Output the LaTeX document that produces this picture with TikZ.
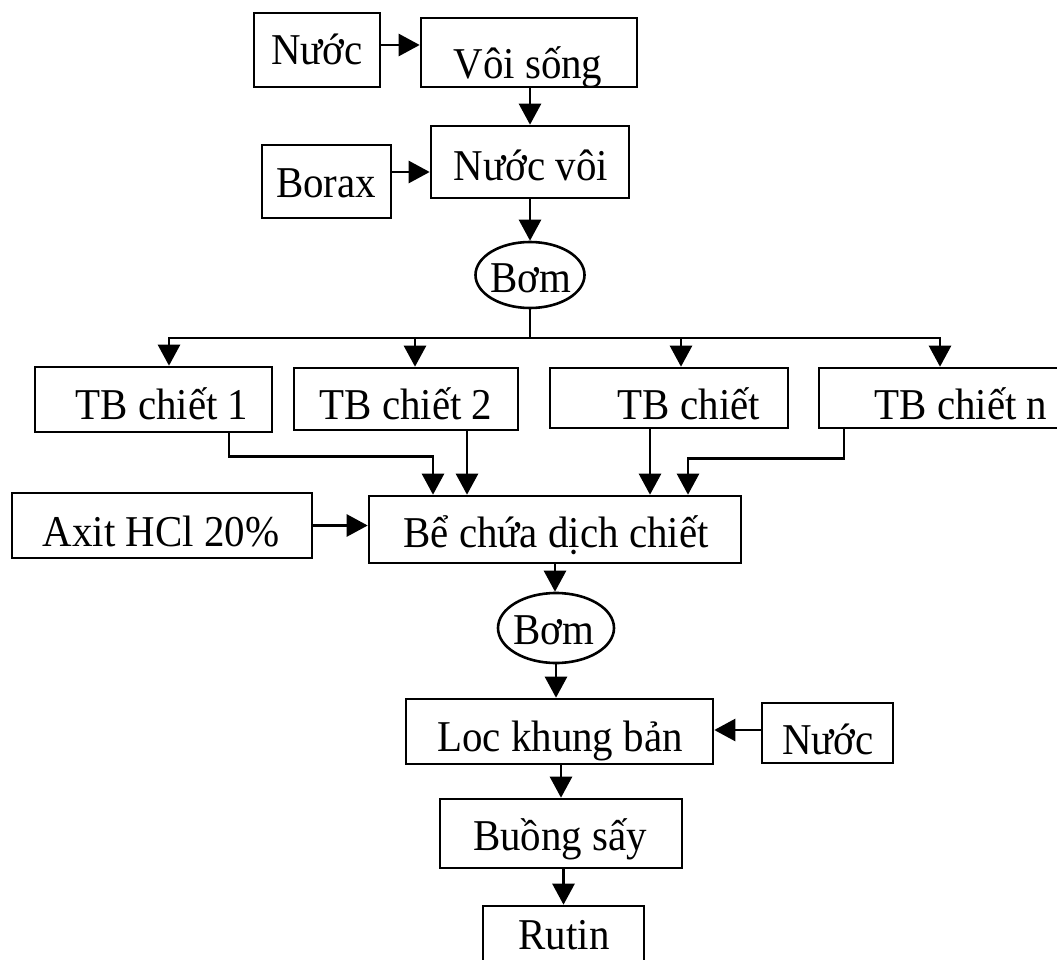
\documentclass[tikz,border=0pt]{standalone}
\usepackage{fontspec}
\setmainfont[FakeStretch=0.93]{Liberation Serif}
\usetikzlibrary{arrows.meta,shapes.geometric}
\tikzset{
  box/.style={draw, line width=2.6pt, rectangle, inner sep=0pt},
  pump/.style={draw, line width=2.6pt, ellipse, inner sep=0pt},
  lbl/.style={anchor=base, inner sep=0pt, font=\fontsize{44}{50}\selectfont},
  arr/.style={line width=2.6pt, -{Triangle[length=21pt,width=22pt]}},
  ln/.style={line width=2.6pt},
}
\begin{document}
\begin{tikzpicture}[x=1pt,y=-1pt]
\useasboundingbox (0,0) rectangle (1057,960);
% boxes
\node[box, minimum width=126, minimum height=74] (n1) at (317,50) {};
\node[box, minimum width=216, minimum height=69] (voi) at (529,52.5) {};
\node[box, minimum width=198, minimum height=72] (nvoi) at (530,162) {};
\node[box, minimum width=129, minimum height=73] (borax) at (326.5,181.5) {};
\node[pump, minimum width=109, minimum height=66] (bom1) at (530,275) {};
\node[box, minimum width=237, minimum height=65] (tb1) at (153.5,399.5) {};
\node[box, minimum width=224, minimum height=62] (tb2) at (406,399) {};
\node[box, minimum width=238, minimum height=60] (tb3) at (669,398) {};
\node[box, minimum width=242, minimum height=60] (tbn) at (940,398) {};
\node[box, minimum width=300, minimum height=65] (axit) at (162,525.5) {};
\node[box, minimum width=372, minimum height=67] (be) at (555,529.5) {};
\node[pump, minimum width=116, minimum height=70] (bom2) at (556,628) {};
\node[box, minimum width=307, minimum height=65] (loc) at (559.5,731.5) {};
\node[box, minimum width=131, minimum height=60] (nuoc2) at (827.5,733) {};
\node[box, minimum width=242, minimum height=69] (buong) at (561,833.5) {};
\node[box, minimum width=161, minimum height=69] (rutin) at (563.5,940.5) {};
% texts
\node[lbl] (t1) at (317,65) {Nước};
\node[lbl] (t2) at (528,79) {Vôi sống};
\node[lbl] (t3) at (531,181) {Nước vôi};
\node[lbl] (t4) at (326,197) {Borax};
\node[lbl] (t5) at (531,292) {Bơm};
\node[lbl] (t6) at (162,419) {TB chiết 1};
\node[lbl] (t7) at (406,419) {TB chiết 2};
\node[lbl] (t8) at (689,419) {TB chiết};
\node[lbl] (t9) at (961,419) {TB chiết n};
\node[lbl] (t10) at (161,546) {Axit HCl 20\%};
\node[lbl] (t11) at (556,547) {Bể chứa dịch chiết};
\node[lbl] (t12) at (554,644) {Bơm};
\node[lbl] (t13) at (560,751) {Loc khung bản};
\node[lbl] (t14) at (828,754) {Nước};
\node[lbl] (t15) at (560,850) {Buồng sấy};
\node[lbl] (t16) at (564,949) {Rutin};
% connectors
\draw[arr] ([yshift=5pt]n1.east) -- ([yshift=5pt]n1.east -| voi.west);
\draw[arr] (nvoi.north |- voi.south) -- (nvoi.north);
\draw[arr] ([yshift=9.5pt]borax.east) -- ([yshift=9.5pt]borax.east -| nvoi.west);
\draw[arr] (nvoi.south) -- (bom1.north);
\coordinate (j) at (530,338);
\draw[ln] (bom1.south) -- (j);
\draw[arr] (j) -| ([xshift=15.5pt]tb1.north);
\draw[arr] (j) -| ([xshift=9pt]tb2.north);
\draw[arr] (j) -| ([xshift=12pt]tb3.north);
\draw[arr] (j) -| (tbn.north);
\draw[arr] ([xshift=75.5pt]tb1.south) -- ++(0,23) -| ([xshift=-122pt]be.north);
\draw[arr] ([xshift=61pt]tb2.south) -- ([xshift=61pt]tb2.south |- be.north);
\draw[arr] ([xshift=-19pt]tb3.south) -- ([xshift=-19pt]tb3.south |- be.north);
\draw[arr] ([xshift=-96pt]tbn.south) -- ++(0,29) -| ([xshift=133pt]be.north);
\draw[arr] (axit.east) -- (axit.east -| be.west);
\draw[arr] (be.south) -- (be.south |- bom2.north);
\draw[arr] (bom2.south) -- (bom2.south |- loc.north);
\draw[arr] ([yshift=3pt]nuoc2.west) -- ([yshift=3pt]nuoc2.west -| loc.east);
\draw[arr] (buong.north |- loc.south) -- (buong.north);
\draw[arr] (rutin.north |- buong.south) -- (rutin.north);
\end{tikzpicture}
\end{document}
